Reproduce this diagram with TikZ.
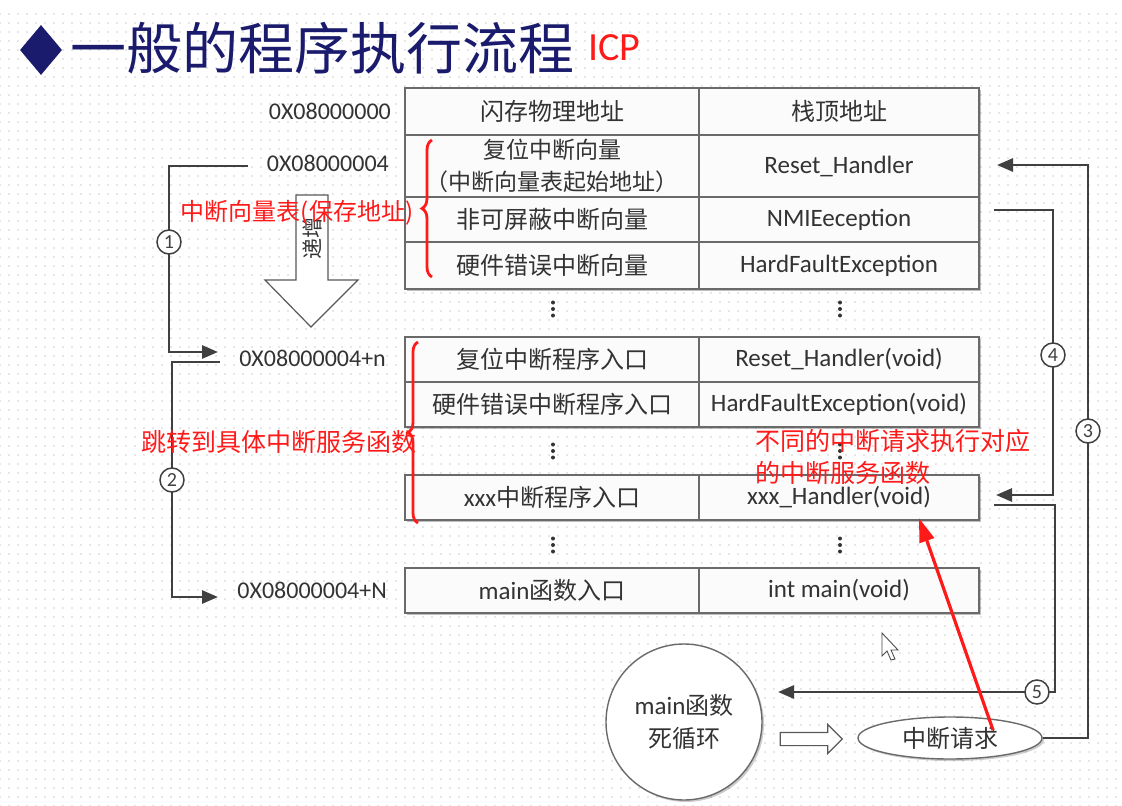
\documentclass[tikz,border=0pt]{standalone}
\usepackage{fontspec}
\setmainfont{Carlito}
\newfontfamily\cjk{Noto Sans CJK SC}
\newcommand\zh[1]{{\cjk #1}}
\usetikzlibrary{arrows.meta,patterns.meta,decorations.pathreplacing,shadows,shapes.geometric,shapes.arrows}
\definecolor{navy}{HTML}{1B1B6E}
\definecolor{txt}{HTML}{333333}
\definecolor{tabline}{HTML}{6A6A6A}
\definecolor{lnk}{HTML}{404040}
\definecolor{redtxt}{HTML}{FF1A1A}
\definecolor{cellfill}{HTML}{FBFBFB}
\begin{document}
\begin{tikzpicture}[x=1pt,y=-1pt,
  cell/.style={draw=tabline, line width=1.5pt, fill=cellfill, inner sep=0pt, text=txt, align=center,
    drop shadow={shadow xshift=2pt,shadow yshift=-2pt,opacity=0.25,fill=black}},
  lat/.style={font=\fontsize{25}{30}\selectfont},
  zhf/.style={font=\cjk\fontsize{24}{32}\selectfont},
  addr/.style={anchor=east, inner sep=0pt, text=txt, font=\fontsize{24}{24}\selectfont},
  link/.style={draw=lnk, line width=2.8pt},
  arr/.style={-{Triangle[length=16pt,width=13pt]}},
  num/.style={circle, draw=lnk, fill=white, line width=1.5pt, minimum size=24pt, inner sep=0pt, font=\fontsize{20}{20}\selectfont, text=lnk},
  redlab/.style={text=redtxt, font=\cjk\fontsize{25}{32}\selectfont, inner sep=0pt},
  redbrace/.style={draw=redtxt, line width=2.8pt, decorate, decoration={brace, amplitude=10pt}},
  vdot/.style={fill=txt},
]
\useasboundingbox (0,0) rectangle (1122,806);
% background
\fill[white] (0,0) rectangle (1122,806);
\fill[pattern={Dots[distance=9pt, radius=0.65pt]}, pattern color=gray!80] (0,8) rectangle (1122,806);

% title
\node[diamond, fill=navy, minimum width=42pt, minimum height=50pt, inner sep=0pt] (dia) at (41,50) {};
\node[anchor=west, inner sep=0pt, text=navy, font=\cjk\fontsize{56}{56}\selectfont] (title) at (70,48) {一般的程序执行流程};
\node[anchor=west, inner sep=0pt, text=redtxt, font=\fontsize{40}{40}\selectfont] (icp) at (588,48) {ICP};

% table 1
\node[cell, zhf, minimum width=294pt, minimum height=47pt] (t1a) at (552,111.5) {闪存物理地址};
\node[cell, zhf, minimum width=280pt, minimum height=47pt] (t1b) at (839,111.5) {栈顶地址};
\node[cell, zhf, minimum width=294pt, minimum height=62pt, font=\cjk\fontsize{23}{32}\selectfont] (t2a) at (552,166) {复位中断向量\\（中断向量表起始地址）};
\node[cell, lat, minimum width=280pt, minimum height=62pt] (t2b) at (839,166) {Reset\_Handler};
\node[cell, zhf, minimum width=294pt, minimum height=45pt] (t3a) at (552,219.5) {非可屏蔽中断向量};
\node[cell, lat, minimum width=280pt, minimum height=45pt] (t3b) at (839,219.5) {NMIEeception};
\node[cell, zhf, minimum width=294pt, minimum height=47pt] (t4a) at (552,265.5) {硬件错误中断向量};
\node[cell, lat, minimum width=280pt, minimum height=47pt] (t4b) at (839,265.5) {HardFaultException};

% table 2
\node[cell, zhf, minimum width=294pt, minimum height=45pt] (u1a) at (552,359.5) {复位中断程序入口};
\node[cell, lat, minimum width=280pt, minimum height=45pt] (u1b) at (839,359.5) {Reset\_Handler(void)};
\node[cell, zhf, minimum width=294pt, minimum height=45pt] (u2a) at (552,404.5) {硬件错误中断程序入口};
\node[cell, lat, minimum width=280pt, minimum height=45pt] (u2b) at (839,404.5) {HardFaultException(void)};

% table 3
\node[cell, lat, minimum width=294pt, minimum height=45pt] (v1a) at (552,497.5) {xxx\zh{\fontsize{24}{28}\selectfont 中断程序入口}};
\node[cell, lat, minimum width=280pt, minimum height=45pt] (v1b) at (839,497.5) {xxx\_Handler(void)};

% table 4
\node[cell, lat, minimum width=294pt, minimum height=45pt] (w1a) at (552,590.5) {main\zh{\fontsize{24}{28}\selectfont 函数入口}};
\node[cell, lat, minimum width=280pt, minimum height=45pt] (w1b) at (839,590.5) {int main(void)};

% vertical ellipses
\foreach \cx in {553,840}{
  \foreach \cy in {309,451,545}{
    \foreach \dy in {-6.5,0,6.5}{\fill[vdot] (\cx,\cy+\dy) circle (2);}
  }
}

% addresses
\node[addr] (a0) at (391,111) {0X08000000};
\node[addr] (a1) at (389,163) {0X08000004};
\node[addr] (a2) at (386,358) {0X08000004+n};
\node[addr] (a3) at (387,590) {0X08000004+N};

% big increasing arrow
\draw[draw=gray!70!black, line width=1.2pt, fill=white]
  (296,195) -- (328,195) -- (328,280) -- (358,280) -- (311,327) -- (265,280) -- (296,280) -- cycle;
\node[rotate=90, text=txt, inner sep=0pt, font=\cjk\fontsize{21}{21}\selectfont] (inc) at (312,238) {递增};

% left connectors
\coordinate (c1s) at (248,166);
\coordinate (c1e) at (218,352);
\coordinate (c2s) at (220,362);
\coordinate (c2e) at (218,597);
\draw[link, arr] (c1s) -- ++(-79,0) |- (c1e);
\draw[link, arr] (c2s) -- ++(-48,0) |- (c2e);
\node[num] (n1) at (169,242) {1};
\node[num] (n2) at (172,480) {2};

% bottom shapes
\node[circle, draw=tabline, fill=white, line width=1.4pt, minimum size=156pt, inner sep=0pt, align=center, text=txt,
      font=\fontsize{25}{33}\selectfont,
      drop shadow={shadow xshift=2pt,shadow yshift=-2pt,opacity=0.2,fill=black}] (loop) at (684,722)
      {main\zh{\fontsize{24}{33}\selectfont 函数}\\\zh{\fontsize{24}{33}\selectfont 死循环}};
\node[single arrow, draw=gray!70!black, fill=white, line width=1.2pt, minimum height=62pt, minimum width=28pt,
      inner sep=6pt, single arrow head extend=8pt] (hol) at (808,739) {};
\node[ellipse, draw=tabline, fill=white, line width=1.4pt, minimum width=184pt, minimum height=42pt, inner sep=0pt,
      text=txt, font=\cjk\fontsize{24}{24}\selectfont,
      drop shadow={shadow xshift=2pt,shadow yshift=-2pt,opacity=0.2,fill=black}] (irq) at (950,738) {中断请求};

% right connectors
\coordinate (c3e) at (997,165);
\coordinate (c4s) at (994,210);
\coordinate (c4e) at (996,495);
\coordinate (c5s) at (994,505);
\coordinate (c5e) at (778,692);
\draw[link, arr] (irq.east) -- (1088,738) |- (c3e);
\draw[link, arr] (c4s) -- ++(59,0) |- (c4e);
\draw[link, arr] (c5s) -- ++(61,0) |- (c5e);
\node[num] (n3) at (1088,431) {3};
\node[num] (n4) at (1053,355) {4};
\node[num] (n5) at (1037,692) {5};

% mouse cursor
\draw[draw=gray!60!black, fill=white, line width=0.9pt]
  (882,633) -- (882,656) -- (887,651) -- (891,660) -- (895,659) -- (891,650) -- (898,650) -- cycle;

% red annotations
\draw[redbrace] (432,277) -- (432,140);
\draw[redbrace] (418,523) -- (418,342);
\node[redlab, font=\cjk\fontsize{24}{32}\selectfont] (r1) at (297,213) {中断向量表(保存地址)};
\node[redlab] (r2) at (279,442) {跳转到具体中断服务函数};
\node[redlab, anchor=north west, align=left] (r3) at (755,429) {不同的中断请求执行对应\\的中断服务函数};
\coordinate (rt) at (993,730);
\coordinate (rtip) at (919,518);
\draw[draw=redtxt, line width=3.2pt, -{Triangle[length=24pt,width=15pt]}] (rt) -- (rtip);
\end{tikzpicture}
\end{document}
